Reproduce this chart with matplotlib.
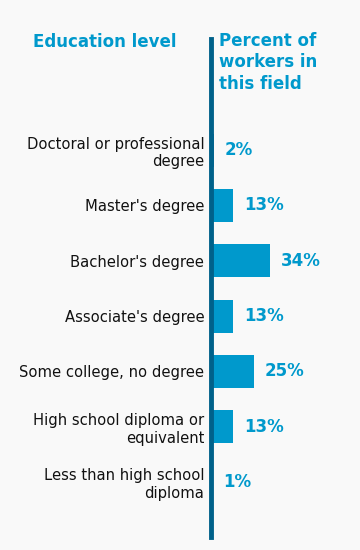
import matplotlib
matplotlib.use("Agg")
import matplotlib.pyplot as plt

categories = ["Doctoral or professional\ndegree", "Master's degree", "Bachelor's degree",
              "Associate's degree", "Some college, no degree",
              "High school diploma or\nequivalent", "Less than high school\ndiploma"]
values = [2, 13, 34, 13, 25, 13, 1]
value_labels = ["2%", "13%", "34%", "13%", "25%", "13%", "1%"]

W, H = 360, 550
BG = "#f9f9f9"
BAR = "#0099cc"
LINE = "#00618a"
TXT = "#0099cc"

fig = plt.figure(figsize=(W / 100, H / 100), dpi=100, facecolor=BG)
x0 = 210.5
px_per = 1.74
xmax = (W - x0) / px_per
ax = fig.add_axes([x0 / W, (H - 536.5) / H, (W - x0) / W, (536.5 - 39.5) / H])
ax.set_facecolor(BG)
ypos = list(range(len(categories)))
ax.barh(ypos, values, height=0.6, color=BAR, left=0)
ax.set_xlim(0, xmax)
ax.set_ylim(6.986, -2.002)
for s in ["top", "right", "bottom"]:
    ax.spines[s].set_visible(False)
ax.spines["left"].set_color(LINE)
ax.spines["left"].set_linewidth(3.5)
ax.set_xticks([])
ax.set_yticks(ypos)
ax.set_yticklabels(categories, fontsize=10.6, color="#111111", linespacing=1.2,
                   ha="right", multialignment="right")
ax.tick_params(axis="y", length=0, pad=4.5)
for y, v, lab in zip(ypos, values, value_labels):
    ax.annotate(lab, (v, y), xytext=(8, 0), textcoords="offset points",
                ha="left", va="center", fontsize=12, fontweight="bold", color=TXT)

fig.text(33 / W, 1 - 42 / H, "Education level", ha="left", va="center",
         fontsize=12, fontweight="bold", color=TXT)
fig.text(219 / W, 1 - 31.5 / H, "Percent of\nworkers in\nthis field", ha="left", va="top",
         fontsize=12, fontweight="bold", color=TXT, linespacing=1.26)

fig.savefig("out.png", dpi=100, facecolor=BG)
